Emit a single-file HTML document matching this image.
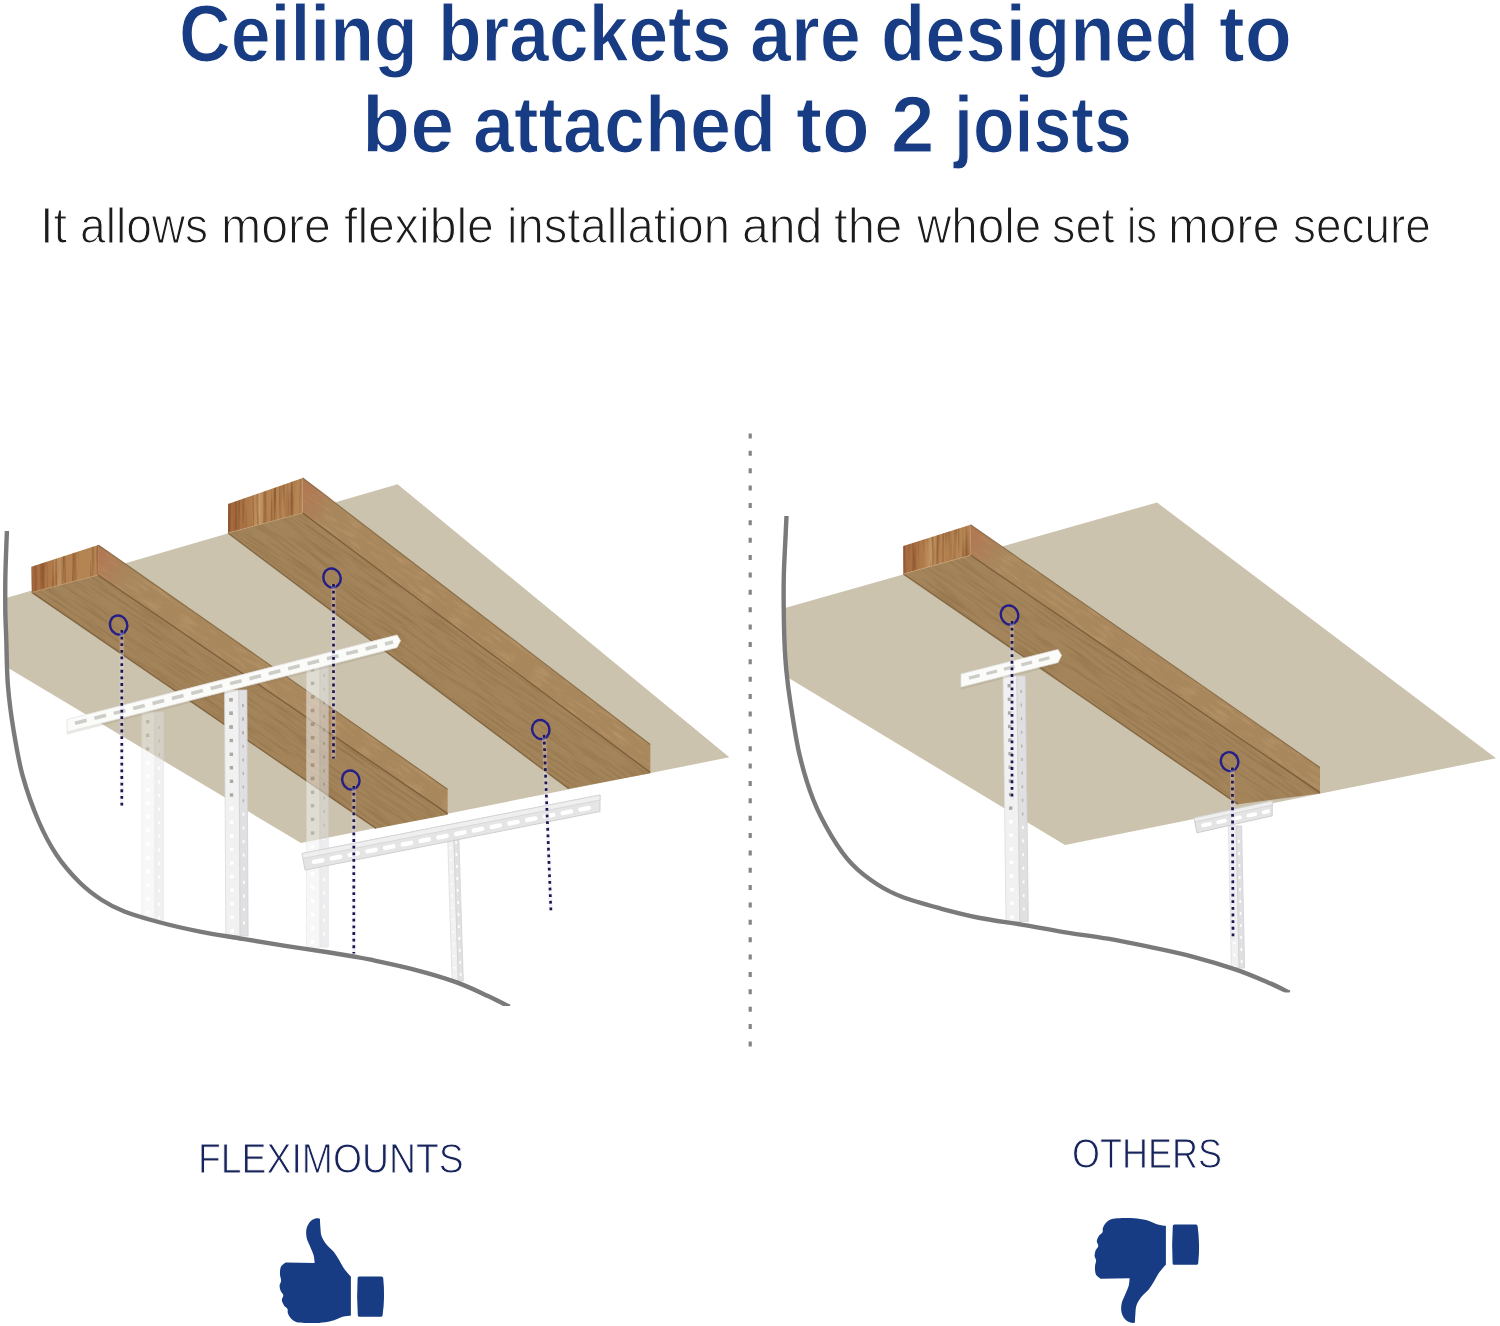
<!DOCTYPE html>
<html><head><meta charset="utf-8"><title>Ceiling brackets</title>
<style>
html,body{margin:0;padding:0;background:#fff}
body{width:1500px;height:1326px;position:relative;overflow:hidden;font-family:"Liberation Sans",sans-serif}
.ln{position:absolute;left:0;width:1500px;height:0;line-height:1;white-space:nowrap}
.ln span{position:absolute;top:0;transform-origin:0 0;white-space:nowrap}
.h{font-weight:bold;color:#173c84;font-size:79px;-webkit-text-stroke:1.2px #fff}
.sub{font-size:50.5px;color:#1c1c1c;-webkit-text-stroke:1.2px #fff}
.lab{font-size:41.7px;color:#17245c;-webkit-text-stroke:1px #fff}
</style></head><body>
<svg width="1500" height="1326" viewBox="0 0 1500 1326" style="position:absolute;left:0;top:0">
<defs><clipPath id="ceilL"><polygon points="6,598 397.6,484.2 729.3,757.3 301,843 6.5,667"/></clipPath><clipPath id="ceilR"><polygon points="784,608.2 1157,502.5 1496,758.2 1065,845 787.4,677.3"/></clipPath>
<clipPath id="clipL"><rect x="0" y="531" width="600" height="475"/></clipPath><clipPath id="clipR"><rect x="770" y="516" width="600" height="476.5"/></clipPath>
<filter id="nz" x="0" y="0" width="100%" height="100%" color-interpolation-filters="sRGB"><feTurbulence type="fractalNoise" baseFrequency="0.02 0.4" numOctaves="3" seed="7" stitchTiles="stitch"/><feColorMatrix type="matrix" values="0 0 0 0 0.36  0 0 0 0 0.24  0 0 0 0 0.1  0 0 0 2.2 -0.95"/></filter>
<filter id="nz2" x="0" y="0" width="100%" height="100%" color-interpolation-filters="sRGB"><feTurbulence type="fractalNoise" baseFrequency="0.05 0.3" numOctaves="2" seed="23" stitchTiles="stitch"/><feColorMatrix type="matrix" values="0 0 0 0 0.85  0 0 0 0 0.7  0 0 0 0 0.5  0 0 0 2.4 -1.15"/></filter>
<filter id="nz3" x="0" y="0" width="100%" height="100%" color-interpolation-filters="sRGB"><feTurbulence type="fractalNoise" baseFrequency="0.35 0.02" numOctaves="2" seed="11" stitchTiles="stitch"/><feColorMatrix type="matrix" values="0 0 0 0 0.45  0 0 0 0 0.22  0 0 0 0 0.1  0 0 0 2.4 -1.0"/></filter>
<pattern id="grain" width="320" height="160" patternUnits="userSpaceOnUse" patternTransform="rotate(34.8)"><rect width="320" height="160" filter="url(#nz2)"/></pattern>
<pattern id="grain2" width="400" height="200" patternUnits="userSpaceOnUse" patternTransform="rotate(34.6)"><rect width="400" height="200" filter="url(#nz)"/></pattern>
<pattern id="vgrain" width="120" height="120" patternUnits="userSpaceOnUse"><rect width="120" height="120" filter="url(#nz3)"/></pattern>
<linearGradient id="endb2" gradientUnits="userSpaceOnUse" x1="228" y1="0" x2="302.7" y2="0"><stop offset="0" stop-color="#a4683f"/><stop offset="0.3" stop-color="#b07b4a"/><stop offset="0.42" stop-color="#c39a68"/><stop offset="0.5" stop-color="#b38250"/><stop offset="1" stop-color="#b58755"/></linearGradient><linearGradient id="redb2" gradientUnits="userSpaceOnUse" x1="302.7" y1="478" x2="338.7" y2="503"><stop offset="0" stop-color="#b56e4c" stop-opacity="0.75"/><stop offset="1" stop-color="#b56e4c" stop-opacity="0"/></linearGradient>
<linearGradient id="endb1" gradientUnits="userSpaceOnUse" x1="31.3" y1="0" x2="98.3" y2="0"><stop offset="0" stop-color="#a4683f"/><stop offset="0.3" stop-color="#b07b4a"/><stop offset="0.42" stop-color="#c39a68"/><stop offset="0.5" stop-color="#b38250"/><stop offset="1" stop-color="#b58755"/></linearGradient><linearGradient id="redb1" gradientUnits="userSpaceOnUse" x1="98.3" y1="545" x2="134.3" y2="570"><stop offset="0" stop-color="#b56e4c" stop-opacity="0.75"/><stop offset="1" stop-color="#b56e4c" stop-opacity="0"/></linearGradient>
<mask id="pm1" maskUnits="userSpaceOnUse" x="138.8" y="709.0" width="27.8" height="214.0"><rect x="138.8" y="709.0" width="27.8" height="214.0" fill="#fff"/><line x1="147.7" y1="720.0" x2="147.7" y2="919.0" stroke="#000" stroke-width="3.5" stroke-dasharray="3.5 10.1"/><line x1="159.2" y1="726.0" x2="159.2" y2="919.0" stroke="#000" stroke-width="1.6" stroke-dasharray="3 10.6"/></mask>
<mask id="pm2" maskUnits="userSpaceOnUse" x="303.5" y="657.0" width="27.8" height="293.0"><rect x="303.5" y="657.0" width="27.8" height="293.0" fill="#fff"/><line x1="312.6" y1="668.0" x2="312.6" y2="946.0" stroke="#000" stroke-width="3.5" stroke-dasharray="3.5 10.1"/><line x1="324.2" y1="674.0" x2="324.2" y2="946.0" stroke="#000" stroke-width="1.6" stroke-dasharray="3 10.6"/></mask>
<mask id="pm3" maskUnits="userSpaceOnUse" x="221.6" y="687.0" width="29.5" height="252.0"><rect x="221.6" y="687.0" width="29.5" height="252.0" fill="#fff"/><line x1="231.0" y1="698.0" x2="232.2" y2="935.0" stroke="#000" stroke-width="3.5" stroke-dasharray="3.5 10.1"/><line x1="242.9" y1="704.0" x2="244.1" y2="935.0" stroke="#000" stroke-width="1.6" stroke-dasharray="3 10.6"/></mask>
<mask id="pm4" maskUnits="userSpaceOnUse" x="444.3" y="824.0" width="22.0" height="160.0"><rect x="444.3" y="824.0" width="22.0" height="160.0" fill="#fff"/><line x1="450.1" y1="835.0" x2="454.9" y2="980.0" stroke="#000" stroke-width="1.8479999999999903" stroke-dasharray="1.8 10.2"/><line x1="456.0" y1="841.0" x2="460.8" y2="980.0" stroke="#000" stroke-width="1.6" stroke-dasharray="3 9.0"/></mask>
<linearGradient id="endb3" gradientUnits="userSpaceOnUse" x1="903.3" y1="0" x2="970.5" y2="0"><stop offset="0" stop-color="#a4683f"/><stop offset="0.3" stop-color="#b07b4a"/><stop offset="0.42" stop-color="#c39a68"/><stop offset="0.5" stop-color="#b38250"/><stop offset="1" stop-color="#b58755"/></linearGradient><linearGradient id="redb3" gradientUnits="userSpaceOnUse" x1="970.5" y1="524.7" x2="1006.5" y2="549.7"><stop offset="0" stop-color="#b56e4c" stop-opacity="0.75"/><stop offset="1" stop-color="#b56e4c" stop-opacity="0"/></linearGradient>
<mask id="pm5" maskUnits="userSpaceOnUse" x="1000.0" y="673.0" width="31.3" height="251.5"><rect x="1000.0" y="673.0" width="31.3" height="251.5" fill="#fff"/><line x1="1009.2" y1="684.0" x2="1012.2" y2="920.5" stroke="#000" stroke-width="3.5" stroke-dasharray="3.5 10.1"/><line x1="1021.1" y1="690.0" x2="1024.1" y2="920.5" stroke="#000" stroke-width="1.6" stroke-dasharray="3 10.6"/></mask>
<mask id="pm6" maskUnits="userSpaceOnUse" x="1225.4" y="823.0" width="22.2" height="148.0"><rect x="1225.4" y="823.0" width="22.2" height="148.0" fill="#fff"/><line x1="1231.8" y1="834.0" x2="1234.8" y2="967.0" stroke="#000" stroke-width="2.2967999999999846" stroke-dasharray="2.3 9.7"/><line x1="1238.8" y1="840.0" x2="1241.8" y2="967.0" stroke="#000" stroke-width="1.6" stroke-dasharray="3 9.0"/></mask></defs>
<polygon points="6.0,598.0 397.6,484.2 729.3,757.3 301.0,843.0 6.5,667.0" fill="#cbc3ad" />
<polygon points="302.7,478.0 650.3,744.5 650.3,772.5 302.7,513.0" fill="#a8875d" />
<polygon points="302.7,513.0 650.3,772.5 650.3,773.3 568.8,788.8 228.0,533.0" fill="#a4845a" />
<polygon points="302.7,478.0 650.3,744.5 650.3,772.5 302.7,513.0" fill="url(#grain)" opacity="0.3"/>
<polygon points="302.7,513.0 650.3,772.5 650.3,773.3 568.8,788.8 228.0,533.0" fill="url(#grain2)" opacity="0.24"/>
<polygon points="302.7,478.0 342.7,506.0 342.7,540.0 302.7,513.0" fill="url(#redb2)" />
<polygon points="228.0,504.0 302.7,478.0 302.7,513.0 228.0,533.0" fill="url(#endb2)" />
<polygon points="228.0,504.0 302.7,478.0 302.7,513.0 228.0,533.0" fill="url(#vgrain)" opacity="0.55"/>
<line x1="302.7" y1="513.0" x2="650.3" y2="772.5" stroke="#7a5d38" stroke-width="1.3" />
<line x1="302.7" y1="478.0" x2="650.3" y2="744.5" stroke="#7a5d38" stroke-width="1.1" opacity="0.75"/>
<line x1="228.0" y1="533.0" x2="568.8" y2="788.8" stroke="#7a5d38" stroke-width="1.4" opacity="0.85"/>
<line x1="302.7" y1="513.0" x2="228.0" y2="533.0" stroke="#c9a577" stroke-width="1" opacity="0.6"/>
<polygon points="98.3,545.0 447.6,789.2 447.6,813.6 98.0,575.0" fill="#a8875d" />
<polygon points="98.0,575.0 447.6,813.6 447.6,814.8 376.0,828.4 31.8,592.4" fill="#a4845a" />
<polygon points="98.3,545.0 447.6,789.2 447.6,813.6 98.0,575.0" fill="url(#grain)" opacity="0.3"/>
<polygon points="98.0,575.0 447.6,813.6 447.6,814.8 376.0,828.4 31.8,592.4" fill="url(#grain2)" opacity="0.24"/>
<polygon points="98.3,545.0 138.3,573.0 138.0,602.0 98.0,575.0" fill="url(#redb1)" />
<polygon points="31.3,566.7 98.3,545.0 98.0,575.0 31.8,592.4" fill="url(#endb1)" />
<polygon points="31.3,566.7 98.3,545.0 98.0,575.0 31.8,592.4" fill="url(#vgrain)" opacity="0.55"/>
<line x1="98.0" y1="575.0" x2="447.6" y2="813.6" stroke="#7a5d38" stroke-width="1.3" />
<line x1="98.3" y1="545.0" x2="447.6" y2="789.2" stroke="#7a5d38" stroke-width="1.1" opacity="0.75"/>
<line x1="31.8" y1="592.4" x2="376.0" y2="828.4" stroke="#7a5d38" stroke-width="1.4" opacity="0.85"/>
<line x1="98.0" y1="575.0" x2="31.8" y2="592.4" stroke="#c9a577" stroke-width="1" opacity="0.6"/>
<g opacity="0.45">
<g clip-path="url(#ceilL)">
<line x1="147.7" y1="720.0" x2="147.7" y2="919.0" stroke="#a9a9a6" stroke-width="3.5" stroke-dasharray="3.5 10.1"/>
<line x1="159.2" y1="726.0" x2="159.2" y2="919.0" stroke="#b3b3b3" stroke-width="1.6" stroke-dasharray="3 10.6"/>
</g>
<g mask="url(#pm1)">
<polygon points="141.8,712.0 154.9,712.0 154.9,920.0 141.8,920.0" fill="#f1f1f1" stroke="#dcdcdc" stroke-width="0.8"/>
<polygon points="154.9,712.0 163.6,712.0 163.6,920.0 154.9,920.0" fill="#e0e0e3" stroke="#d0d0d4" stroke-width="0.8"/>
</g></g>
<g opacity="0.55">
<g clip-path="url(#ceilL)">
<line x1="312.6" y1="668.0" x2="312.6" y2="946.0" stroke="#a9a9a6" stroke-width="3.5" stroke-dasharray="3.5 10.1"/>
<line x1="324.2" y1="674.0" x2="324.2" y2="946.0" stroke="#b3b3b3" stroke-width="1.6" stroke-dasharray="3 10.6"/>
</g>
<g mask="url(#pm2)">
<polygon points="306.5,660.0 320.0,660.0 320.0,947.0 306.5,947.0" fill="#f1f1f1" stroke="#dcdcdc" stroke-width="0.8"/>
<polygon points="320.0,660.0 328.3,660.0 328.3,947.0 320.0,947.0" fill="#e0e0e3" stroke="#d0d0d4" stroke-width="0.8"/>
</g></g>
<g opacity="1">
<g clip-path="url(#ceilL)">
<line x1="231.0" y1="698.0" x2="232.2" y2="935.0" stroke="#a9a9a6" stroke-width="3.5" stroke-dasharray="3.5 10.1"/>
<line x1="242.9" y1="704.0" x2="244.1" y2="935.0" stroke="#b3b3b3" stroke-width="1.6" stroke-dasharray="3 10.6"/>
</g>
<g mask="url(#pm3)">
<polygon points="224.6,690.0 238.9,690.0 240.1,936.0 225.8,936.0" fill="#f1f1f1" stroke="#dcdcdc" stroke-width="0.8"/>
<polygon points="238.9,690.0 246.9,690.0 248.1,936.0 240.1,936.0" fill="#e0e0e3" stroke="#d0d0d4" stroke-width="0.8"/>
</g></g>
<g opacity="1.0">
<polygon points="67.0,732.0 397.0,647.5 397.0,650.0 67.0,734.5" fill="#8a7a5c" opacity="0.18"/>
<polygon points="67.0,719.5 397.0,635.0 400.5,640.6 397.0,647.5 67.0,732.0" fill="#fbfbfa" stroke="#e3e3e1" stroke-width="0.8"/>
<line x1="75.0" y1="723.3" x2="393.0" y2="641.9" stroke="#cdcdc8" stroke-width="3.6" stroke-dasharray="12 8" stroke-linecap="butt"/>
</g>
<g opacity="0.95">
<g clip-path="url(#ceilL)">
<line x1="450.1" y1="835.0" x2="454.9" y2="980.0" stroke="#a9a9a6" stroke-width="1.8479999999999903" stroke-dasharray="1.8 10.2"/>
<line x1="456.0" y1="841.0" x2="460.8" y2="980.0" stroke="#b3b3b3" stroke-width="1.6" stroke-dasharray="3 9.0"/>
</g>
<g mask="url(#pm4)">
<polygon points="447.3,827.0 453.5,827.0 458.3,981.0 452.1,981.0" fill="#f1f1f1" stroke="#dcdcdc" stroke-width="0.8"/>
<polygon points="453.5,827.0 458.5,827.0 463.3,981.0 458.3,981.0" fill="#e0e0e3" stroke="#d0d0d4" stroke-width="0.8"/>
</g></g>
<g opacity="0.95">
<polygon points="302.0,853.5 600.0,795.0 600.0,811.5 305.0,870.0" fill="#e4e4e4" stroke="#cdcdcd" stroke-width="1"/>
<polygon points="302.0,853.5 600.0,795.0 600.0,800.0 303.0,858.5" fill="#efefef" stroke="#d2d2d2" stroke-width="0.8"/>
<line x1="314.0" y1="861.9" x2="596.0" y2="806.5" stroke="#ffffff" stroke-width="4.4" stroke-dasharray="8.5 9.6" stroke-linecap="round"/>
</g>
<ellipse cx="118.6" cy="625" rx="8.6" ry="9.6" fill="none" stroke="#241f88" stroke-width="2.4" transform="rotate(-20 118.6 625)"/>
<line x1="121.8" y1="630.0" x2="121.8" y2="806.0" stroke="#e6dcf2" stroke-width="4.2" opacity="0.33"/><line x1="121.8" y1="630.0" x2="121.8" y2="806.0" stroke="#1d1750" stroke-width="2.7" stroke-dasharray="2.8 3.84"/>
<ellipse cx="332" cy="578" rx="8.6" ry="9.6" fill="none" stroke="#241f88" stroke-width="2.4" transform="rotate(-20 332 578)"/>
<line x1="333.5" y1="584.0" x2="333.5" y2="758.5" stroke="#e6dcf2" stroke-width="4.2" opacity="0.33"/><line x1="333.5" y1="584.0" x2="333.5" y2="758.5" stroke="#1d1750" stroke-width="2.7" stroke-dasharray="2.8 3.84"/>
<ellipse cx="350.8" cy="780" rx="8.6" ry="9.6" fill="none" stroke="#241f88" stroke-width="2.4" transform="rotate(-20 350.8 780)"/>
<line x1="353.8" y1="786.0" x2="353.8" y2="953.5" stroke="#e6dcf2" stroke-width="4.2" opacity="0.33"/><line x1="353.8" y1="786.0" x2="353.8" y2="953.5" stroke="#1d1750" stroke-width="2.7" stroke-dasharray="2.8 3.84"/>
<ellipse cx="540.8" cy="729.5" rx="8.6" ry="9.6" fill="none" stroke="#241f88" stroke-width="2.4" transform="rotate(-20 540.8 729.5)"/>
<line x1="544.0" y1="735.0" x2="550.9" y2="911.0" stroke="#e6dcf2" stroke-width="4.2" opacity="0.33"/><line x1="544.0" y1="735.0" x2="550.9" y2="911.0" stroke="#1d1750" stroke-width="2.7" stroke-dasharray="2.8 3.84"/>
<path d="M7.0,529.0 C6.7,536.7 5.7,561.5 5.4,575.0 C5.1,588.5 5.2,599.2 5.3,610.0 C5.4,620.8 5.9,627.5 6.3,640.0 C6.7,652.5 6.7,670.1 7.9,685.2 C9.1,700.3 11.1,715.4 13.6,730.5 C16.1,745.6 18.5,760.6 22.6,775.7 C26.8,790.8 32.8,807.8 38.5,821.0 C44.2,834.2 49.8,844.8 56.6,855.0 C63.4,865.2 71.7,874.5 79.2,882.0 C86.7,889.5 94.3,895.1 101.8,900.0 C109.3,904.9 115.0,907.8 124.4,911.5 C133.8,915.2 145.8,918.6 158.4,922.0 C171.0,925.4 185.9,928.8 200.0,931.6 C214.1,934.4 228.5,936.4 242.7,938.8 C256.9,941.2 271.1,943.6 285.3,945.9 C299.5,948.1 316.6,950.5 328.0,952.3 C339.4,954.1 346.5,955.3 353.6,956.5 C360.7,957.7 360.8,957.6 370.7,959.7 C380.6,961.8 399.1,965.6 413.3,969.3 C427.5,973.0 443.6,977.6 456.0,982.1 C468.4,986.6 479.1,991.9 488.0,996.0 C496.9,1000.1 505.9,1005.0 509.5,1006.8" fill="none" stroke="#7a7a7a" stroke-width="4.4" clip-path="url(#clipL)"/>
<line x1="750.2" y1="433.5" x2="750.2" y2="1047.0" stroke="#858585" stroke-width="3.2" stroke-dasharray="5 12.37"/>
<polygon points="784.0,608.2 1157.0,502.5 1496.0,758.2 1065.0,845.0 787.4,677.3" fill="#cbc3ad" />
<polygon points="970.5,524.7 1320.0,767.5 1320.0,792.6 970.5,555.3" fill="#a8875d" />
<polygon points="970.5,555.3 1320.0,792.6 1320.0,793.5 1238.0,804.2 903.3,574.0" fill="#a4845a" />
<polygon points="970.5,524.7 1320.0,767.5 1320.0,792.6 970.5,555.3" fill="url(#grain)" opacity="0.3"/>
<polygon points="970.5,555.3 1320.0,792.6 1320.0,793.5 1238.0,804.2 903.3,574.0" fill="url(#grain2)" opacity="0.24"/>
<polygon points="970.5,524.7 1010.5,552.7 1010.5,582.3 970.5,555.3" fill="url(#redb3)" />
<polygon points="903.3,546.0 970.5,524.7 970.5,555.3 903.3,574.0" fill="url(#endb3)" />
<polygon points="903.3,546.0 970.5,524.7 970.5,555.3 903.3,574.0" fill="url(#vgrain)" opacity="0.55"/>
<line x1="970.5" y1="555.3" x2="1320.0" y2="792.6" stroke="#7a5d38" stroke-width="1.3" />
<line x1="970.5" y1="524.7" x2="1320.0" y2="767.5" stroke="#7a5d38" stroke-width="1.1" opacity="0.75"/>
<line x1="903.3" y1="574.0" x2="1238.0" y2="804.2" stroke="#7a5d38" stroke-width="1.4" opacity="0.85"/>
<line x1="970.5" y1="555.3" x2="903.3" y2="574.0" stroke="#c9a577" stroke-width="1" opacity="0.6"/>
<g opacity="1.0">
<g clip-path="url(#ceilR)">
<line x1="1009.2" y1="684.0" x2="1012.2" y2="920.5" stroke="#a9a9a6" stroke-width="3.5" stroke-dasharray="3.5 10.1"/>
<line x1="1021.1" y1="690.0" x2="1024.1" y2="920.5" stroke="#b3b3b3" stroke-width="1.6" stroke-dasharray="3 10.6"/>
</g>
<g mask="url(#pm5)">
<polygon points="1003.0,676.0 1016.8,676.0 1019.8,921.5 1006.0,921.5" fill="#f1f1f1" stroke="#dcdcdc" stroke-width="0.8"/>
<polygon points="1016.8,676.0 1025.3,676.0 1028.3,921.5 1019.8,921.5" fill="#e0e0e3" stroke="#d0d0d4" stroke-width="0.8"/>
</g></g>
<g opacity="1.0">
<polygon points="961.0,687.0 1058.0,662.5 1058.0,665.0 961.0,689.5" fill="#8a7a5c" opacity="0.18"/>
<polygon points="961.0,674.0 1058.0,649.5 1061.5,655.4 1058.0,662.5 961.0,687.0" fill="#fbfbfa" stroke="#e3e3e1" stroke-width="0.8"/>
<line x1="969.0" y1="678.1" x2="1054.0" y2="656.6" stroke="#cdcdc8" stroke-width="3.2" stroke-dasharray="11 7" stroke-linecap="butt"/>
</g>
<g opacity="1.0">
<g clip-path="url(#ceilR)">
<line x1="1231.8" y1="834.0" x2="1234.8" y2="967.0" stroke="#a9a9a6" stroke-width="2.2967999999999846" stroke-dasharray="2.3 9.7"/>
<line x1="1238.8" y1="840.0" x2="1241.8" y2="967.0" stroke="#b3b3b3" stroke-width="1.6" stroke-dasharray="3 9.0"/>
</g>
<g mask="url(#pm6)">
<polygon points="1228.4,826.0 1236.1,826.0 1239.1,968.0 1231.4,968.0" fill="#f1f1f1" stroke="#dcdcdc" stroke-width="0.8"/>
<polygon points="1236.1,826.0 1241.6,826.0 1244.6,968.0 1239.1,968.0" fill="#e0e0e3" stroke="#d0d0d4" stroke-width="0.8"/>
</g></g>
<g opacity="1.0">
<polygon points="1194.0,818.0 1272.2,801.0 1272.2,815.8 1197.0,832.8" fill="#e4e4e4" stroke="#cdcdcd" stroke-width="1"/>
<polygon points="1194.0,818.0 1272.2,801.0 1272.2,805.0 1195.0,822.0" fill="#efefef" stroke="#d2d2d2" stroke-width="0.8"/>
<line x1="1203.0" y1="825.4" x2="1268.2" y2="811.3" stroke="#ffffff" stroke-width="3.8" stroke-dasharray="7 8.5" stroke-linecap="round"/>
</g>
<ellipse cx="1009.5" cy="615" rx="8.6" ry="9.6" fill="none" stroke="#241f88" stroke-width="2.4" transform="rotate(-20 1009.5 615)"/>
<line x1="1012.0" y1="621.0" x2="1012.0" y2="800.0" stroke="#e6dcf2" stroke-width="4.2" opacity="0.33"/><line x1="1012.0" y1="621.0" x2="1012.0" y2="800.0" stroke="#1d1750" stroke-width="2.7" stroke-dasharray="2.8 3.84"/>
<ellipse cx="1229.6" cy="761.6" rx="8.6" ry="9.6" fill="none" stroke="#241f88" stroke-width="2.4" transform="rotate(-20 1229.6 761.6)"/>
<line x1="1232.4" y1="767.5" x2="1233.0" y2="939.5" stroke="#e6dcf2" stroke-width="4.2" opacity="0.33"/><line x1="1232.4" y1="767.5" x2="1233.0" y2="939.5" stroke="#1d1750" stroke-width="2.7" stroke-dasharray="2.8 3.84"/>
<path d="M786.6,514.0 C786.4,519.3 785.6,535.3 785.1,545.7 C784.6,556.1 784.0,566.1 783.8,576.3 C783.6,586.5 783.6,596.2 783.7,606.8 C783.8,617.4 784.0,629.5 784.4,640.0 C784.8,650.5 785.3,659.6 786.3,670.0 C787.3,680.4 788.2,688.5 790.4,702.5 C792.6,716.5 795.5,737.5 799.3,753.8 C803.1,770.0 808.0,786.3 813.4,800.0 C818.8,813.7 825.0,825.1 831.4,835.8 C837.8,846.5 844.2,855.9 851.9,864.0 C859.6,872.1 869.0,879.0 877.5,884.5 C886.0,890.0 892.4,893.2 903.1,897.3 C913.8,901.3 928.8,905.3 941.6,908.8 C954.4,912.2 966.5,915.3 980.0,918.0 C993.5,920.7 1008.5,922.4 1022.7,924.8 C1036.9,927.2 1051.1,930.0 1065.3,932.3 C1079.5,934.6 1093.8,936.2 1108.0,938.7 C1122.2,941.2 1136.5,944.2 1150.7,947.2 C1164.9,950.2 1179.1,953.1 1193.3,956.8 C1207.5,960.5 1223.5,965.3 1236.0,969.6 C1248.5,973.9 1259.1,978.6 1268.0,982.4 C1276.9,986.2 1285.9,990.9 1289.5,992.6" fill="none" stroke="#7a7a7a" stroke-width="4.4" clip-path="url(#clipR)"/>
<g fill="#173c84"><path d="M319.9,1218.7 C320.0,1220.2 320.1,1224.6 320.4,1227.5 C320.7,1230.4 320.5,1233.3 321.6,1236.2 C322.7,1239.1 324.8,1242.4 326.9,1245.0 C328.9,1247.6 331.9,1249.5 333.9,1252.0 C335.9,1254.5 337.5,1257.3 339.1,1259.9 C340.7,1262.5 341.9,1265.3 343.5,1267.7 C345.1,1270.1 347.5,1272.8 348.7,1274.3 C349.9,1275.8 350.5,1276.1 350.9,1276.5 L350.9,1315.4 C349.5,1315.6 345.9,1315.8 342.6,1316.7 C339.3,1317.7 335.1,1320.1 331.2,1321.1 C327.3,1322.1 323.4,1322.6 319.0,1322.9 C314.6,1323.2 308.8,1323.1 305.0,1322.9 C301.2,1322.8 298.5,1322.7 296.2,1322.0 C293.9,1321.3 292.4,1320.0 291.0,1318.5 C289.6,1317.0 288.5,1314.8 287.9,1313.2 C287.3,1311.6 288.1,1310.2 287.5,1308.9 C286.9,1307.6 284.9,1306.9 284.0,1305.4 C283.1,1303.9 281.9,1301.8 281.8,1300.1 C281.7,1298.4 283.5,1296.9 283.3,1295.3 C283.1,1293.7 281.1,1292.2 280.5,1290.5 C279.9,1288.8 279.5,1286.8 279.6,1285.2 C279.7,1283.6 281.0,1282.5 281.1,1280.9 C281.2,1279.3 280.3,1277.3 280.1,1275.6 C279.9,1273.8 279.9,1272.0 280.1,1270.4 C280.3,1268.8 280.5,1267.3 281.4,1266.0 C282.3,1264.7 285.0,1263.1 285.7,1262.5 L314.6,1262.9 C314.5,1261.7 314.4,1258.2 313.7,1255.5 C313.0,1252.8 311.4,1249.6 310.2,1246.7 C309.0,1243.8 307.3,1240.8 306.7,1238.0 C306.1,1235.2 306.0,1232.4 306.3,1230.1 C306.6,1227.8 307.4,1225.8 308.5,1224.0 C309.6,1222.2 311.4,1220.5 312.9,1219.6 C314.4,1218.6 316.5,1218.4 317.7,1218.3 C318.9,1218.2 319.5,1218.6 319.9,1218.7 Z"/><path d="M359,1276.5 L381.5,1276.5 Q383,1276.5 383.2,1278 Q385.2,1296.5 382.6,1315.2 Q382.4,1316.7 380.9,1316.7 L359.4,1316.7 Q357.9,1316.7 357.8,1315.2 Q356.6,1296.5 357.6,1278 Q357.7,1276.5 359,1276.5 Z"/></g>
<g fill="#173c84" transform="translate(815,2541.2) scale(1,-1)"><path d="M319.9,1218.7 C320.0,1220.2 320.1,1224.6 320.4,1227.5 C320.7,1230.4 320.5,1233.3 321.6,1236.2 C322.7,1239.1 324.8,1242.4 326.9,1245.0 C328.9,1247.6 331.9,1249.5 333.9,1252.0 C335.9,1254.5 337.5,1257.3 339.1,1259.9 C340.7,1262.5 341.9,1265.3 343.5,1267.7 C345.1,1270.1 347.5,1272.8 348.7,1274.3 C349.9,1275.8 350.5,1276.1 350.9,1276.5 L350.9,1315.4 C349.5,1315.6 345.9,1315.8 342.6,1316.7 C339.3,1317.7 335.1,1320.1 331.2,1321.1 C327.3,1322.1 323.4,1322.6 319.0,1322.9 C314.6,1323.2 308.8,1323.1 305.0,1322.9 C301.2,1322.8 298.5,1322.7 296.2,1322.0 C293.9,1321.3 292.4,1320.0 291.0,1318.5 C289.6,1317.0 288.5,1314.8 287.9,1313.2 C287.3,1311.6 288.1,1310.2 287.5,1308.9 C286.9,1307.6 284.9,1306.9 284.0,1305.4 C283.1,1303.9 281.9,1301.8 281.8,1300.1 C281.7,1298.4 283.5,1296.9 283.3,1295.3 C283.1,1293.7 281.1,1292.2 280.5,1290.5 C279.9,1288.8 279.5,1286.8 279.6,1285.2 C279.7,1283.6 281.0,1282.5 281.1,1280.9 C281.2,1279.3 280.3,1277.3 280.1,1275.6 C279.9,1273.8 279.9,1272.0 280.1,1270.4 C280.3,1268.8 280.5,1267.3 281.4,1266.0 C282.3,1264.7 285.0,1263.1 285.7,1262.5 L314.6,1262.9 C314.5,1261.7 314.4,1258.2 313.7,1255.5 C313.0,1252.8 311.4,1249.6 310.2,1246.7 C309.0,1243.8 307.3,1240.8 306.7,1238.0 C306.1,1235.2 306.0,1232.4 306.3,1230.1 C306.6,1227.8 307.4,1225.8 308.5,1224.0 C309.6,1222.2 311.4,1220.5 312.9,1219.6 C314.4,1218.6 316.5,1218.4 317.7,1218.3 C318.9,1218.2 319.5,1218.6 319.9,1218.7 Z"/><path d="M359,1276.5 L381.5,1276.5 Q383,1276.5 383.2,1278 Q385.2,1296.5 382.6,1315.2 Q382.4,1316.7 380.9,1316.7 L359.4,1316.7 Q357.9,1316.7 357.8,1315.2 Q356.6,1296.5 357.6,1278 Q357.7,1276.5 359,1276.5 Z"/></g>
</svg>
<div class="ln h" style="top:-6.27px"><span style="left:178.68px;transform:scaleX(0.9063)">Ceiling</span> <span style="left:438.08px;transform:scaleX(0.9033)">brackets</span> <span style="left:749.53px;transform:scaleX(0.9348)">are</span> <span style="left:880.65px;transform:scaleX(0.9166)">designed</span> <span style="left:1219.4px;transform:scaleX(0.9778)">to</span></div>
<div class="ln h" style="top:85.4px"><span style="left:361.81px;transform:scaleX(0.9982)">be</span> <span style="left:472.83px;transform:scaleX(0.9328)">attached</span> <span style="left:796.4px;transform:scaleX(0.9888)">to</span> <span style="left:891.43px;transform:scaleX(0.9872)">2</span> <span style="left:953.82px;transform:scaleX(0.8617)">joists</span></div>
<div class="ln sub" style="top:200.55px"><span style="left:39.54px;transform:scaleX(0.9654)">It</span> <span style="left:80.27px;transform:scaleX(0.9133)">allows</span> <span style="left:220.54px;transform:scaleX(0.9539)">more</span> <span style="left:344.4px;transform:scaleX(0.9535)">flexible</span> <span style="left:507.3px;transform:scaleX(0.9341)">installation</span> <span style="left:742.49px;transform:scaleX(0.9536)">and</span> <span style="left:834.4px;transform:scaleX(0.9719)">the</span> <span style="left:916.84px;transform:scaleX(0.9422)">whole</span> <span style="left:1052.47px;transform:scaleX(0.9301)">set</span> <span style="left:1127.23px;transform:scaleX(0.8225)">is</span> <span style="left:1168.48px;transform:scaleX(0.9721)">more</span> <span style="left:1292.69px;transform:scaleX(0.9092)">secure</span></div>
<div class="ln lab" style="top:1138.2px"><span style="left:198.41px;transform:scaleX(0.8962)">FLEXIMOUNTS</span></div>
<div class="ln lab" style="top:1133.3px"><span style="left:1071.64px;transform:scaleX(0.8636)">OTHERS</span></div>
</body></html>
